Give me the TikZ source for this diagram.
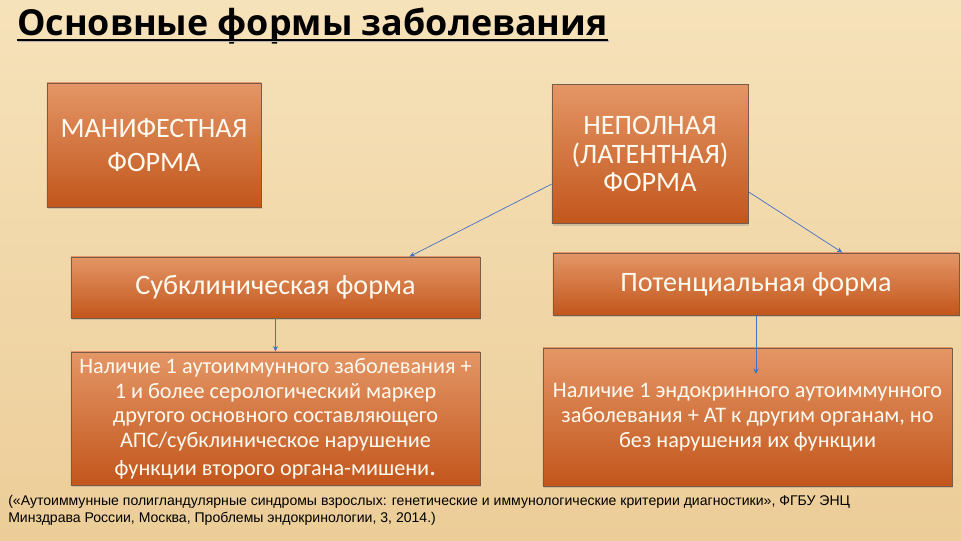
\documentclass[tikz,border=0pt]{standalone}
\usepackage{fontspec}
\setmainfont{Carlito}
\newfontfamily\titlefont{Open Sans}
\newfontfamily\notefont{Liberation Sans}
\usetikzlibrary{positioning,arrows.meta,shadows}
\definecolor{apsBg}{RGB}{246,226,186}
\definecolor{apsBgDark}{RGB}{236,205,152}
\definecolor{apsTop}{RGB}{228,150,102}
\definecolor{apsBottom}{RGB}{194,86,28}
\definecolor{apsEdge}{RGB}{120,92,72}
\definecolor{apsArrow}{RGB}{68,114,196}
\definecolor{apsText}{RGB}{255,250,240}

\tikzset{
  formbox/.style={draw=apsEdge, line width=0.6pt, top color=apsTop, bottom color=apsBottom,
    text=apsText, align=center, inner sep=2pt,
    drop shadow={opacity=0.3, shadow xshift=1pt, shadow yshift=-1.5pt}},
  bigtext/.style={font=\fontsize{20}{23}\selectfont},
  smalltext/.style={font=\fontsize{15.8}{17.6}\selectfont},
  link/.style={apsArrow, line width=0.5pt, -{Stealth[length=4pt,width=3.5pt]}}
}

\begin{document}
\begin{tikzpicture}[x=0.025cm, y=-0.025cm]
  % Background
  \useasboundingbox (0,0) rectangle (961,540);
  \shade[top color=apsBg, bottom color=apsBgDark] (0,0) rectangle (961,540);

  % Title
  \node[anchor=base west, inner sep=0pt, font=\titlefont\bfseries\fontsize{25.5}{30}\selectfont] (title) at (17,35) {Основные формы заболевания};
  \draw[gray!60, line width=1.6pt] ([xshift=1pt, yshift=-4.5pt]title.base west) -- ([xshift=1pt, yshift=-4.5pt]title.base east);
  \draw[black, line width=1.6pt] ([yshift=-3.5pt]title.base west) -- ([yshift=-3.5pt]title.base east);

  % Top level
  \node[formbox, bigtext, minimum width=5.35cm, minimum height=3.1cm] (manif) at (154,145) {МАНИФЕСТНАЯ\\[1.2pt]ФОРМА};
  \node[formbox, font=\fontsize{20}{20}\selectfont, minimum width=4.9cm, minimum height=3.475cm] (latent) at (650,154) {НЕПОЛНАЯ\\(ЛАТЕНТНАЯ)\\ФОРМА};

  % Second level
  \node[formbox, bigtext, minimum width=10.225cm, minimum height=1.525cm] (subclin) at (275.5,287.5) {Субклиническая форма};
  \node[formbox, bigtext, minimum width=10.15cm, minimum height=1.55cm] (potent) at (756,284) {Потенциальная форма};

  % Descriptions
  \node[formbox, smalltext, minimum width=10.225cm, minimum height=3.325cm] (subdesc) at (275.5,418.5)
    {Наличие 1 аутоиммунного заболевания +\\1 и более серологический маркер\\другого основного составляющего\\АПС/субклиническое нарушение\\[2pt]функции второго органа-мишени{\fontsize{20}{20}\selectfont .}};
  \node[formbox, smalltext, minimum width=10.225cm, minimum height=3.45cm] (potdesc) at (747.5,417)
    {Наличие 1 эндокринного аутоиммунного\\заболевания + АТ к другим органам, но\\без нарушения их функции};

  % Connectors
  \coordinate (potend) at (756,374);
  \draw[link] (latent.197) -- (subclin.13);
  \draw[link] (latent.339) -- (potent.20);
  \draw[link] (subclin) -- (subdesc);
  \draw[link] (potent) -- (potend);

  % Source
  \node[anchor=north west, align=left, inner sep=0pt, font=\notefont\fontsize{10}{12.2}\selectfont] (source) at (8,495)
    {(«Аутоиммунные полигландулярные синдромы взрослых: генетические и иммунологические критерии диагностики», ФГБУ ЭНЦ\\Минздрава России, Москва, Проблемы эндокринологии, 3, 2014.)};
\end{tikzpicture}
\end{document}
